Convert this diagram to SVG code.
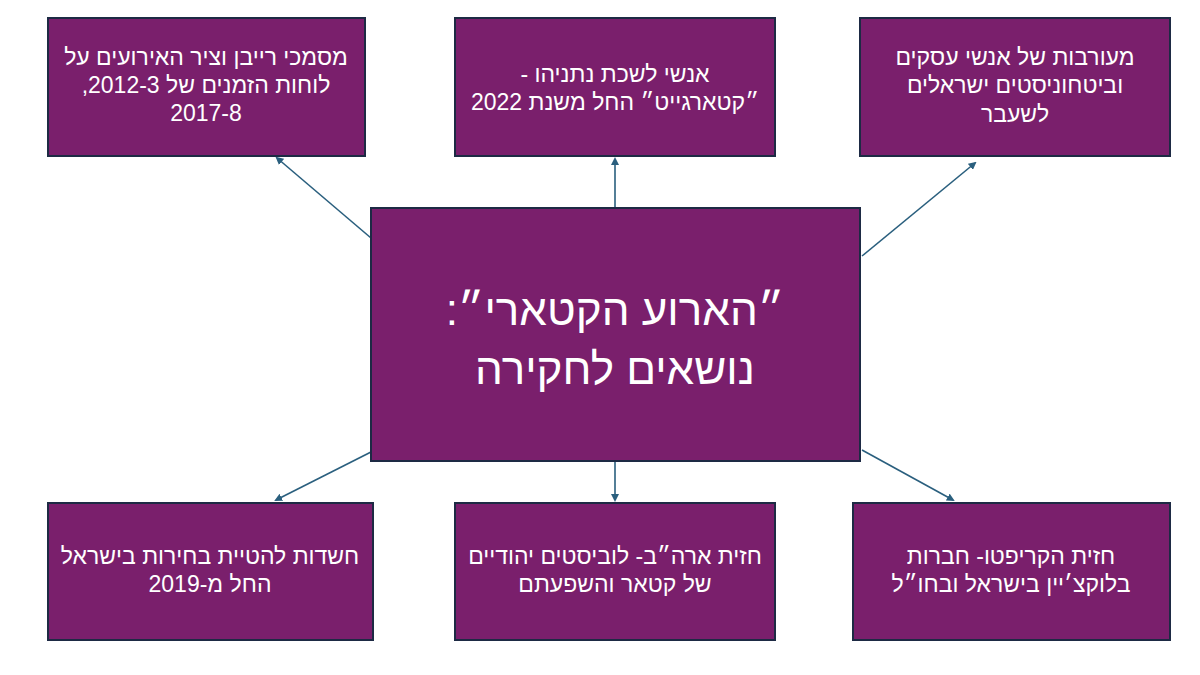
<svg xmlns="http://www.w3.org/2000/svg" width="1200" height="675" viewBox="0 0 1200 675">
<style>
.b{fill:#7a1f6c;stroke:#1d2a44;stroke-width:2}
.t{font-family:"Liberation Sans",Arial,sans-serif;font-size:23px;fill:#fff;text-anchor:middle;direction:rtl}
.c{font-size:44px}
.l{stroke:#2a5f7e;stroke-width:1.6;fill:none;marker-end:url(#a)}
</style>
<defs><marker id="a" markerWidth="8" markerHeight="8" refX="6" refY="4" orient="auto" markerUnits="userSpaceOnUse"><path d="M0,0L8,4L0,8z" fill="#2a5f7e"/></marker></defs>
<rect width="1200" height="675" fill="#fff"/>
<g id="connectors">
<line class="l" x1="371" y1="238" x2="277" y2="158"/>
<line class="l" x1="615" y1="208" x2="615" y2="159"/>
<line class="l" x1="862" y1="256" x2="975" y2="163"/>
<line class="l" x1="371" y1="452" x2="276" y2="500"/>
<line class="l" x1="615" y1="461" x2="615" y2="500"/>
<line class="l" x1="862" y1="450" x2="953" y2="500"/>
</g>
<g id="center"><rect class="b" x="371" y="208" width="489" height="253"/>
<text class="t c" x="615" y="325">״הארוע הקטארי״:</text>
<text class="t c" x="615" y="384">נושאים לחקירה</text></g>
<g id="tl"><rect class="b" x="48" y="18" width="317" height="138"/>
<text class="t" x="206" y="65">מסמכי רייבן וציר האירועים על</text>
<text class="t" x="206" y="93">לוחות הזמנים של 2012-3,</text>
<text class="t" x="206" y="121">2017-8</text></g>
<g id="tc"><rect class="b" x="455" y="18" width="320" height="138"/>
<text class="t" x="615" y="82">אנשי לשכת נתניהו -</text>
<text class="t" x="615" y="110">״קטארגייט״ החל משנת 2022</text></g>
<g id="tr"><rect class="b" x="860" y="18" width="310" height="138"/>
<text class="t" x="1015" y="65">מעורבות של אנשי עסקים</text>
<text class="t" x="1015" y="93">וביטחוניסטים ישראלים</text>
<text class="t" x="1015" y="122">לשעבר</text></g>
<g id="bl"><rect class="b" x="48" y="503" width="325" height="137"/>
<text class="t" x="210" y="564">חשדות להטיית בחירות בישראל</text>
<text class="t" x="210" y="592">החל מ-2019</text></g>
<g id="bc"><rect class="b" x="455" y="503" width="320" height="137"/>
<text class="t" x="615" y="564">חזית ארה״ב- לוביסטים יהודיים</text>
<text class="t" x="615" y="592">של קטאר והשפעתם</text></g>
<g id="br"><rect class="b" x="853" y="503" width="317" height="137"/>
<text class="t" x="1011" y="564">חזית הקריפטו- חברות</text>
<text class="t" x="1011" y="592">בלוקצ׳יין בישראל ובחו״ל</text></g>
</svg>
